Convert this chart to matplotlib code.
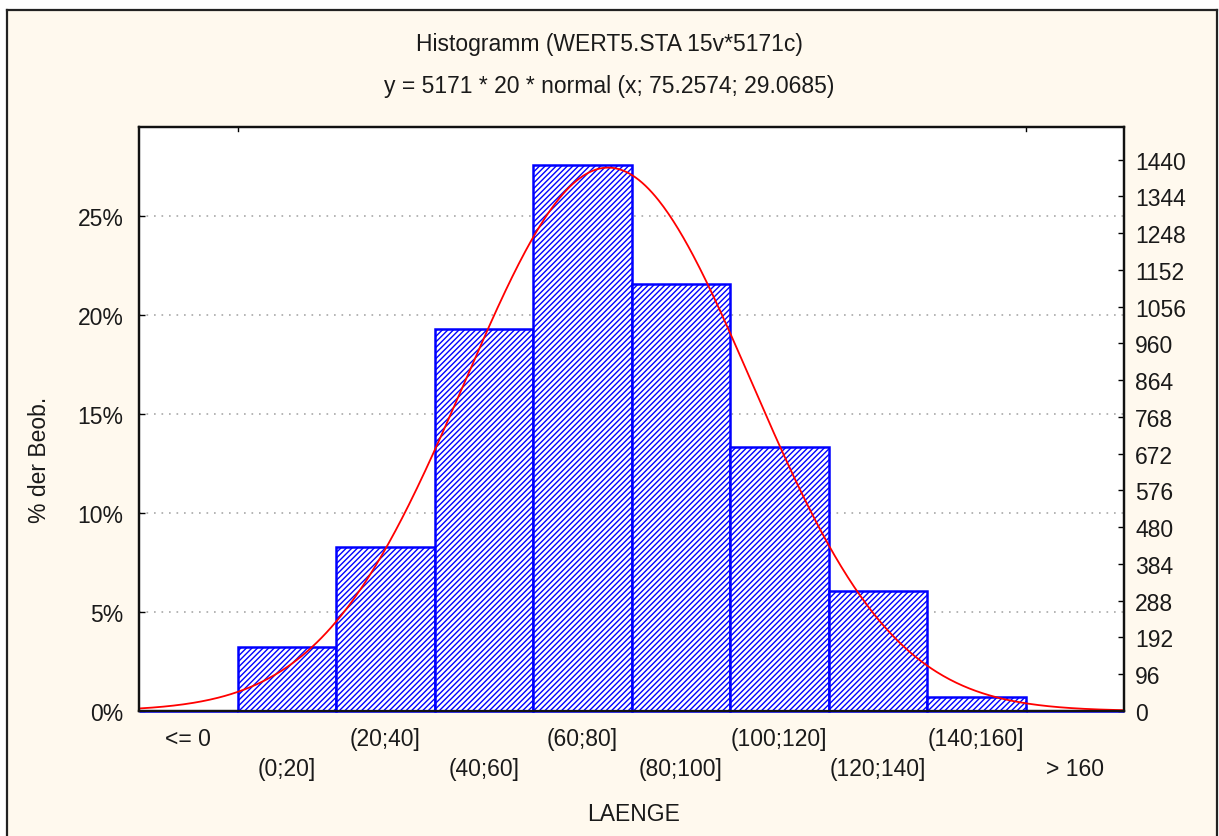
import numpy as np
import matplotlib
matplotlib.use("Agg")
import matplotlib.pyplot as plt
from matplotlib.patches import Rectangle
from matplotlib.lines import Line2D
import matplotlib.transforms as mtransforms

# ---- data ----
categories = ["<= 0", "(0;20]", "(20;40]", "(40;60]", "(60;80]",
              "(80;100]", "(100;120]", "(120;140]", "(140;160]", "> 160"]
counts = [0, 167, 428, 997, 1425, 1115, 689, 313, 37, 0]
n_total = 5171
bin_width = 20
bin_start = -20          # lower edge of the first category
fit_mean = 75.2574
fit_sd = 29.0685
left_ticks = [0, 5, 10, 15, 20, 25]
right_ticks = [0, 96, 192, 288, 384, 480, 576, 672, 768, 864, 960,
               1056, 1152, 1248, 1344, 1440]
title1 = "Histogramm (WERT5.STA 15v*5171c)"
title2 = "y = 5171 * 20 * normal (x; 75.2574; 29.0685)"
xlabel = "LAENGE"
ylabel = "% der Beob."

plt.rcParams['font.family'] = ['Liberation Sans', 'DejaVu Sans']
plt.rcParams['hatch.linewidth'] = 1.0
plt.rcParams['hatch.color'] = '#0000FF'

FS = 16.5
TXT = '#1a1a1a'
W, H = 1219, 837
fig = plt.figure(figsize=(W / 100, H / 100), dpi=100, facecolor='white')

cream = '#FFF9EE'
fig.add_artist(Rectangle((7 / W, 0), (1218 - 7) / W, (H - 11) / H,
                         transform=fig.transFigure, facecolor=cream,
                         edgecolor='none', zorder=-10))
for xs, ys in [([7, 7], [0, H - 11]), ([7, 1217], [H - 11, H - 11]),
               ([1217, 1217], [0, H - 11])]:
    fig.add_artist(Line2D([x / W for x in xs], [y / H for y in ys],
                          transform=fig.transFigure, color='#222222', lw=1.6))

ax = fig.add_axes([139 / W, (H - 712) / H, (1124 - 139) / W, (712 - 128) / H])
ax.set_facecolor('white')

for s in ax.spines.values():
    s.set_linewidth(1.6)
    s.set_color('#111111')

pct = [100.0 * c / n_total for c in counts]
pos = np.arange(len(categories))
bars = ax.bar(pos, pct, width=1.0, facecolor='white', edgecolor='#0000FF',
              hatch='//////', linewidth=1.8, zorder=3)
for b in bars:
    b.set_clip_on(False)

# fitted normal curve (in % of observations)
xv = np.linspace(bin_start, bin_start + bin_width * len(categories), 600)
yv = n_total * bin_width * np.exp(-0.5 * ((xv - fit_mean) / fit_sd) ** 2) / (fit_sd * np.sqrt(2 * np.pi))
ax.plot((xv - bin_start) / bin_width - 0.5, 100.0 * yv / n_total,
        color='#FF0000', lw=1.3, zorder=4)

ymax = 29.5
ax.set_xlim(-0.5, len(categories) - 0.5)
ax.set_ylim(0, ymax)
ax.set_yticks(left_ticks)
ax.set_yticklabels([f"{t}%" for t in left_ticks], fontsize=FS, color=TXT)
ax.tick_params(axis='y', direction='in', length=4, width=1, pad=11)
for t in left_ticks[1:]:
    ax.axhline(t, color='#A8A8A8', lw=1.2, ls=(0, (1, 3.5)), zorder=1)

# x ticks at bin boundaries (inside), custom staggered labels
edges = np.arange(len(categories) + 1) - 0.5
ax.set_xticks(edges[1:-1])
ax.set_xticklabels([])
ax.tick_params(axis='x', direction='in', length=4, width=1)
trans = mtransforms.blended_transform_factory(ax.transData, ax.transAxes)
for i, lab in enumerate(categories):
    off = -28 if i % 2 == 0 else -58
    ax.annotate(lab, (i, 0), xycoords=trans, xytext=(0, off * 0.72),
                textcoords='offset points', ha='center', va='center',
                fontsize=FS, color=TXT)

# top ticks
for xe in [edges[1], edges[-2]]:
    ax.plot([xe, xe], [ymax, ymax - 0.2], color='black', lw=1, clip_on=False)

ax2 = ax.twinx()
ax2.set_ylim(0, ymax * n_total / 100.0)
ax2.set_yticks(right_ticks)
ax2.set_yticklabels([str(t) for t in right_ticks], fontsize=FS, color=TXT)
ax2.tick_params(axis='y', direction='in', length=4, width=1, pad=8)
for s in ax2.spines.values():
    s.set_linewidth(1.6)
    s.set_color('#111111')

fig.text(0.5, 1 - 44 / H, title1, ha='center', va='center', fontsize=FS, color=TXT)
fig.text(0.5, 1 - 86 / H, title2, ha='center', va='center', fontsize=FS, color=TXT)
fig.text(634 / W, 1 - 815 / H, xlabel, ha='center', va='center', fontsize=FS, color=TXT)
fig.text(40 / W, 1 - 460 / H, ylabel, ha='center', va='center', rotation=90,
         fontsize=FS, color=TXT)

fig.savefig('out.png', dpi=100, facecolor=fig.get_facecolor())
